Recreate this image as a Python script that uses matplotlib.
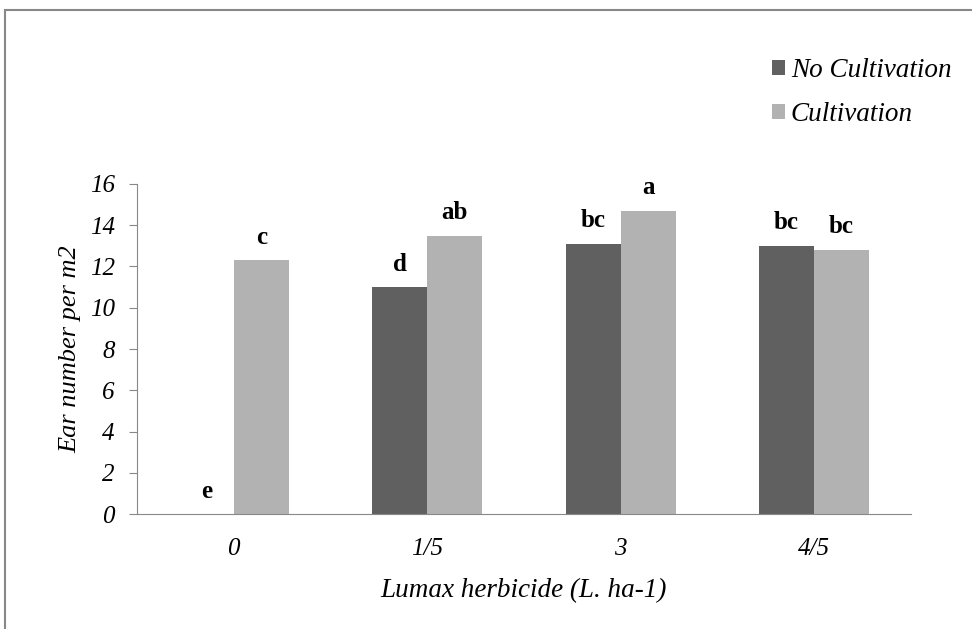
import numpy as np
import matplotlib
matplotlib.use("Agg")
import matplotlib.pyplot as plt
from matplotlib.patches import Rectangle

# ── data ────────────────────────────────────────────
doses = ["0", "1/5", "3", "4/5"]
no_cult = [0.0, 11.0, 13.1, 13.0]
cult = [12.3, 13.5, 14.7, 12.8]
no_cult_letters = ["e", "d", "bc", "bc"]
cult_letters = ["c", "ab", "a", "bc"]

dark = "#606060"
light = "#b2b2b2"
serif = ["Liberation Serif", "DejaVu Serif"]
fs = 18

fig = plt.figure(figsize=(9.72, 6.29), dpi=100)
ax = fig.add_axes([0.141, 0.1828, 0.796, 0.5247])

x = np.arange(len(doses))
w = 0.284
ax.bar(x - w / 2, no_cult, w, color=dark, label="No Cultivation")
ax.bar(x + w / 2, cult, w, color=light, label="Cultivation")

for i in range(len(doses)):
    ax.text(x[i] - w / 2, no_cult[i] + 0.8, no_cult_letters[i],
            ha="center", va="baseline", fontsize=fs, fontweight="bold",
            family=serif)
    ax.text(x[i] + w / 2, cult[i] + 0.8, cult_letters[i],
            ha="center", va="baseline", fontsize=fs, fontweight="bold",
            family=serif)

ax.set_xlim(-0.5, len(doses) - 0.5)
ax.set_ylim(0, 16)
ax.set_yticks(np.arange(0, 17, 2))
ax.set_xticks(x)
ax.set_xticklabels(doses, fontsize=fs, style="italic", family=serif)
for lab in ax.get_yticklabels():
    lab.set_fontsize(fs)
    lab.set_style("italic")
    lab.set_family(serif)

ax.tick_params(axis="x", length=0, pad=17)
ax.tick_params(axis="y", length=6, color="#888888", pad=10)
for s in ["top", "right"]:
    ax.spines[s].set_visible(False)
ax.spines["left"].set_color("#888888")
ax.spines["bottom"].set_color("#888888")

ax.set_xlabel("Lumax herbicide (L. ha-1)", fontsize=19.5, style="italic",
              family=serif, labelpad=13)
ax.set_ylabel("Ear number per m2", fontsize=19, style="italic",
              family=serif, labelpad=6)

leg = fig.legend(loc="upper left", bbox_to_anchor=(0.769, 0.946),
                 frameon=False, handlelength=0.5, handleheight=0.5,
                 handletextpad=0.2, labelspacing=0.7,
                 prop={"family": serif, "style": "italic", "size": 19.5})

# outer frame
fig.patches.append(Rectangle((5 / 972, -0.1), 1.2, 1 - 10 / 629 + 0.1,
                             transform=fig.transFigure, fill=False,
                             edgecolor="#888888", linewidth=1.5))

plt.savefig("out.png", dpi=100)
